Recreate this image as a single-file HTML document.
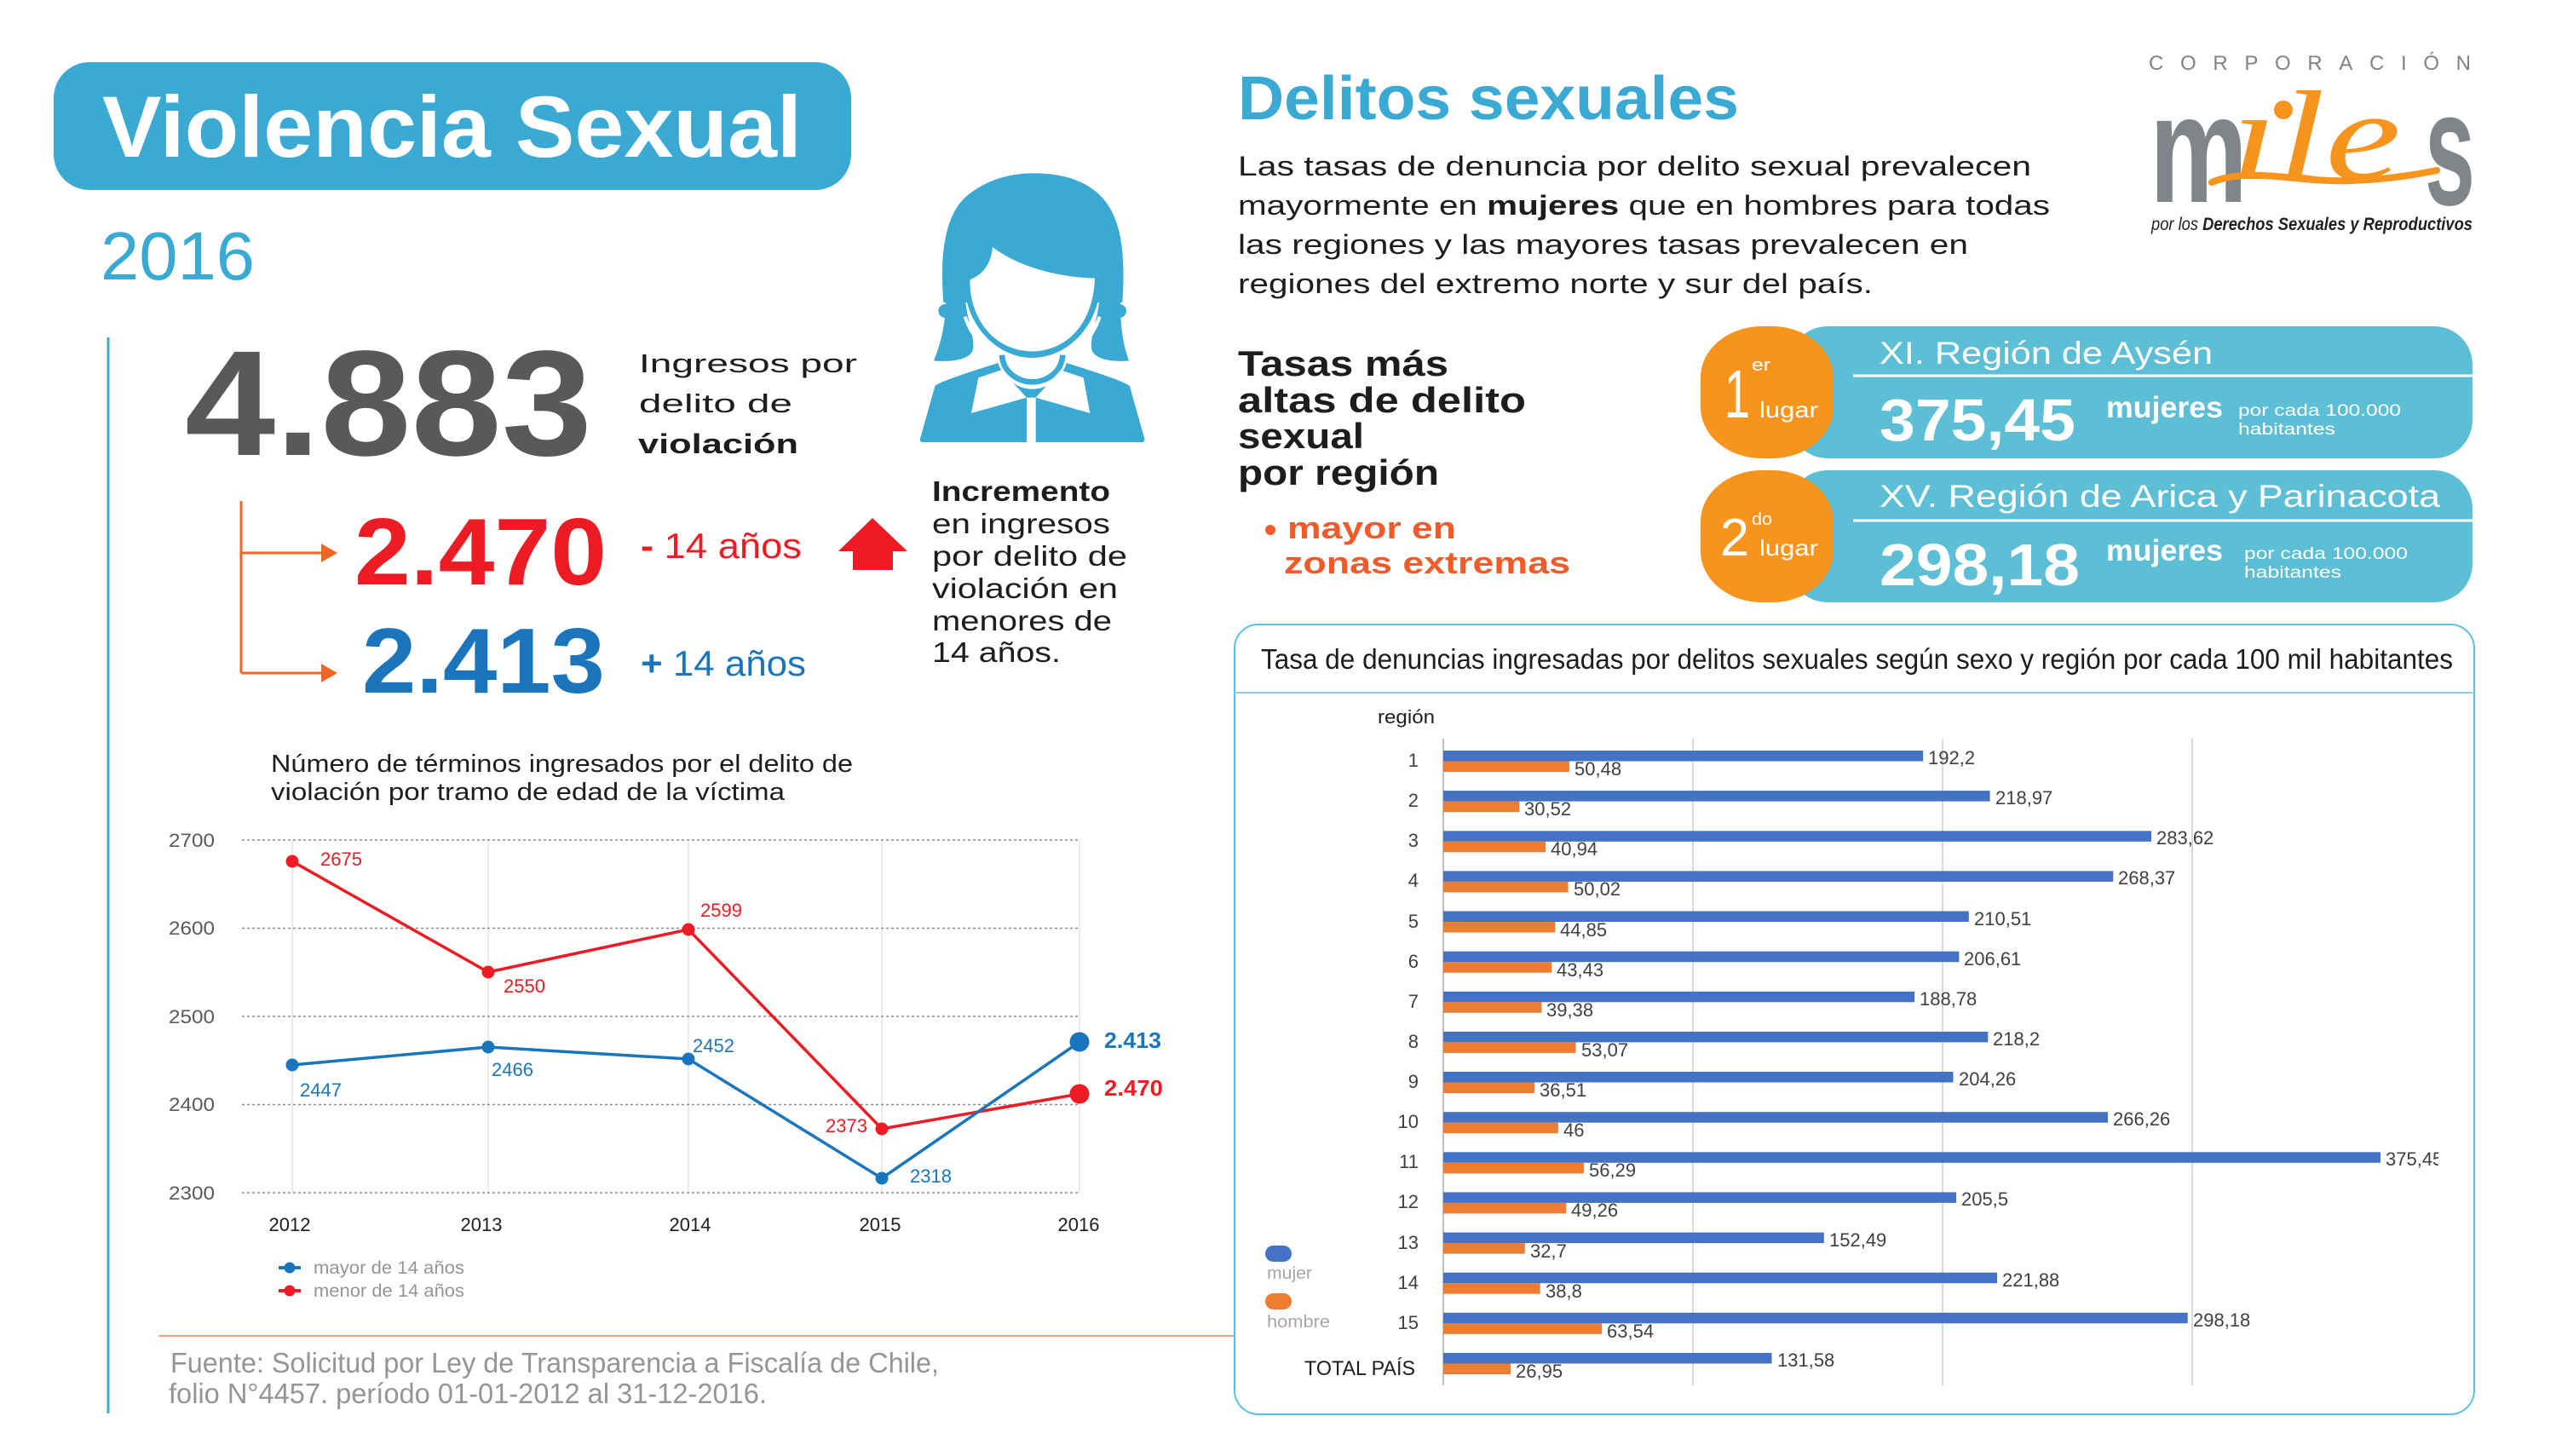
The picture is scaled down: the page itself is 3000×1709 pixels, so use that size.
<!DOCTYPE html>
<html><head><meta charset="utf-8">
<style>
html,body{margin:0;padding:0;background:#fff;}
svg{display:block;}
text{font-family:"Liberation Sans",sans-serif;}
</style></head>
<body>
<svg width="3000" height="1709" viewBox="0 0 3000 1709" xmlns="http://www.w3.org/2000/svg">
<defs>
<clipPath id="boxclip"><rect x="1449" y="733" width="1413" height="927"/></clipPath>
</defs>
<rect width="3000" height="1709" fill="#fff"/>

<!-- Title -->
<rect x="63" y="73" width="936" height="150" rx="42" fill="#3aa9d3"/>
<text x="120" y="184" font-size="102" font-weight="bold" fill="#fff" textLength="821" lengthAdjust="spacingAndGlyphs">Violencia Sexual</text>
<text x="118" y="328" font-size="80" fill="#3aa9d3" textLength="181" lengthAdjust="spacingAndGlyphs">2016</text>
<line x1="127" y1="396" x2="127" y2="1659" stroke="#3aa9d3" stroke-width="3"/>

<!-- Big numbers -->
<text x="217" y="534" font-size="176" font-weight="bold" fill="#58595b" textLength="478" lengthAdjust="spacingAndGlyphs">4.883</text>
<text x="750" y="437" font-size="31" fill="#1d1d1b" textLength="256" lengthAdjust="spacingAndGlyphs">Ingresos por</text>
<text x="750" y="484" font-size="31" fill="#1d1d1b" textLength="180" lengthAdjust="spacingAndGlyphs">delito de</text>
<text x="749" y="532" font-size="32" font-weight="bold" fill="#1d1d1b" textLength="188" lengthAdjust="spacingAndGlyphs">violación</text>

<path d="M283 588 V790 M283 649 H380 M283 790 H380" stroke="#f26522" stroke-width="3" fill="none"/>
<polygon points="377,638 396,649 377,660" fill="#f26522"/>
<polygon points="377,779 396,790 377,801" fill="#f26522"/>

<text x="416" y="686" font-size="111" font-weight="bold" fill="#ed1c24" textLength="296" lengthAdjust="spacingAndGlyphs">2.470</text>
<text x="752" y="655" font-size="42" fill="#ed1c24" textLength="189" lengthAdjust="spacingAndGlyphs"><tspan font-weight="bold">-</tspan> 14 años</text>
<text x="425" y="813" font-size="109" font-weight="bold" fill="#1a75bc" textLength="285" lengthAdjust="spacingAndGlyphs">2.413</text>
<text x="752" y="793" font-size="42" fill="#1a75bc" textLength="194" lengthAdjust="spacingAndGlyphs"><tspan font-weight="bold">+</tspan> 14 años</text>

<polygon points="1024,608 1065,647 1048,647 1048,669 1001,669 1001,647 984,647" fill="#ed1c24"/>

<text x="1094" y="588" font-size="33" font-weight="bold" fill="#1d1d1b" textLength="209" lengthAdjust="spacingAndGlyphs">Incremento</text>
<text x="1094" y="626" font-size="33" fill="#1d1d1b" textLength="209" lengthAdjust="spacingAndGlyphs">en ingresos</text>
<text x="1094" y="664" font-size="33" fill="#1d1d1b" textLength="229" lengthAdjust="spacingAndGlyphs">por delito de</text>
<text x="1094" y="702" font-size="33" fill="#1d1d1b" textLength="218" lengthAdjust="spacingAndGlyphs">violación en</text>
<text x="1094" y="740" font-size="33" fill="#1d1d1b" textLength="211" lengthAdjust="spacingAndGlyphs">menores de</text>
<text x="1094" y="777" font-size="33" fill="#1d1d1b" textLength="151" lengthAdjust="spacingAndGlyphs">14 años.</text>

<!-- Woman icon -->
<g transform="translate(1070,195) scale(0.33333)">
  <g fill="#3aa9d3">
    <path d="M112 480 C100 330 110 170 200 100 C270 45 350 25 430 25 C520 25 610 45 670 110 C745 190 752 330 742 480 Z"/>
    <circle cx="118" cy="510" r="24"/><circle cx="732" cy="510" r="24"/>
    <path d="M120 480 L190 480 C200 560 225 610 215 650 C200 685 130 690 78 685 C100 630 118 570 120 480 Z"/>
    <path d="M735 480 L660 480 C650 560 625 610 635 650 C650 685 720 690 765 685 C745 630 735 570 735 480 Z"/>
    <path d="M185 400 C185 560 300 675 425 675 C550 675 665 560 665 400 Z"/>
  </g>
  <path d="M188 530 C210 600 260 650 312 670" stroke="#fff" stroke-width="12" fill="none"/>
  <path d="M662 530 C640 600 590 650 538 670" stroke="#fff" stroke-width="12" fill="none"/>
  <path d="M205 400 C255 380 280 340 285 285 C370 350 500 390 645 395 C640 560 540 652 425 652 C300 652 205 550 205 400 Z" fill="#fff"/>
  <path d="M30 960 L82 775 C90 760 250 710 315 690 C330 760 380 785 425 785 C470 785 520 760 535 690 C600 710 760 760 768 775 L820 960 C822 970 815 972 810 972 L40 972 C32 972 28 968 30 960 Z" fill="#3aa9d3"/>
  <path d="M318 665 C322 730 380 760 425 760 C470 760 528 730 532 665" stroke="#fff" stroke-width="36" fill="none"/>
  <path d="M318 665 C322 730 380 760 425 760 C470 760 528 730 532 665" stroke="#3aa9d3" stroke-width="20" fill="none"/>
  <polygon points="235,745 315,718 405,815 210,870" fill="#fff"/>
  <polygon points="605,745 525,718 437,815 628,870" fill="#fff"/>
  <rect x="405" y="815" width="32" height="160" fill="#fff"/>
</g>

<!-- Line chart -->
<text x="318" y="906" font-size="29" fill="#1d1d1b" textLength="683" lengthAdjust="spacingAndGlyphs">Número de términos ingresados por el delito de</text>
<text x="318" y="939" font-size="29" fill="#1d1d1b" textLength="603" lengthAdjust="spacingAndGlyphs">violación por tramo de edad de la víctima</text>

<g stroke="#e3e3e3" stroke-width="1.5">
  <line x1="343" y1="986" x2="343" y2="1400"/>
  <line x1="573" y1="986" x2="573" y2="1400"/>
  <line x1="808" y1="986" x2="808" y2="1400"/>
  <line x1="1035" y1="986" x2="1035" y2="1400"/>
  <line x1="1267" y1="986" x2="1267" y2="1400"/>
</g>
<g stroke="#8a8c8f" stroke-width="1.6" stroke-dasharray="3 3">
  <line x1="284" y1="986" x2="1268" y2="986"/>
  <line x1="284" y1="1089.5" x2="1268" y2="1089.5"/>
  <line x1="284" y1="1193" x2="1268" y2="1193"/>
  <line x1="284" y1="1296.5" x2="1268" y2="1296.5"/>
  <line x1="284" y1="1400" x2="1268" y2="1400"/>
</g>
<g font-size="22" fill="#58595b" text-anchor="end">
  <text x="252" y="994" textLength="54" lengthAdjust="spacingAndGlyphs">2700</text>
  <text x="252" y="1097" textLength="54" lengthAdjust="spacingAndGlyphs">2600</text>
  <text x="252" y="1201" textLength="54" lengthAdjust="spacingAndGlyphs">2500</text>
  <text x="252" y="1304" textLength="54" lengthAdjust="spacingAndGlyphs">2400</text>
  <text x="252" y="1408" textLength="54" lengthAdjust="spacingAndGlyphs">2300</text>
</g>
<polyline points="343,1011 573,1141 808,1091 1035,1325 1267,1284" fill="none" stroke="#ed1c24" stroke-width="3.5"/>
<polyline points="343,1250 573,1229 808,1243 1035,1383 1267,1223" fill="none" stroke="#1a75bc" stroke-width="3.5"/>
<g fill="#ed1c24">
  <circle cx="343" cy="1011" r="7.5"/><circle cx="573" cy="1141" r="7.5"/><circle cx="808" cy="1091" r="7.5"/><circle cx="1035" cy="1325" r="7.5"/><circle cx="1267" cy="1284" r="11.5"/>
</g>
<g fill="#1a75bc">
  <circle cx="343" cy="1250" r="7.5"/><circle cx="573" cy="1229" r="7.5"/><circle cx="808" cy="1243" r="7.5"/><circle cx="1035" cy="1383" r="7.5"/><circle cx="1267" cy="1223" r="11.5"/>
</g>
<g font-size="22" fill="#ed1c24">
  <text x="376" y="1016">2675</text>
  <text x="591" y="1165">2550</text>
  <text x="822" y="1076">2599</text>
  <text x="969" y="1329">2373</text>
</g>
<g font-size="22" fill="#1a75bc">
  <text x="352" y="1287">2447</text>
  <text x="577" y="1263">2466</text>
  <text x="813" y="1235">2452</text>
  <text x="1068" y="1388">2318</text>
</g>
<text x="1296" y="1230" font-size="26" font-weight="bold" fill="#1a75bc" textLength="67" lengthAdjust="spacingAndGlyphs">2.413</text>
<text x="1296" y="1286" font-size="26" font-weight="bold" fill="#ed1c24" textLength="69" lengthAdjust="spacingAndGlyphs">2.470</text>
<g font-size="22" fill="#1d1d1b" text-anchor="middle">
  <text x="340" y="1445">2012</text>
  <text x="565" y="1445">2013</text>
  <text x="810" y="1445">2014</text>
  <text x="1033" y="1445">2015</text>
  <text x="1266" y="1445">2016</text>
</g>
<line x1="327" y1="1488" x2="353" y2="1488" stroke="#1a75bc" stroke-width="4"/>
<circle cx="340" cy="1488" r="6.5" fill="#1a75bc"/>
<text x="368" y="1495" font-size="21" fill="#939598" textLength="177" lengthAdjust="spacingAndGlyphs">mayor de 14 años</text>
<line x1="327" y1="1515" x2="353" y2="1515" stroke="#ed1c24" stroke-width="4"/>
<circle cx="340" cy="1515" r="6.5" fill="#ed1c24"/>
<text x="368" y="1522" font-size="21" fill="#939598" textLength="177" lengthAdjust="spacingAndGlyphs">menor de 14 años</text>

<line x1="186" y1="1568" x2="1449" y2="1568" stroke="#f6a27a" stroke-width="2"/>
<text x="200" y="1611" font-size="33" fill="#939598" textLength="902" lengthAdjust="spacingAndGlyphs">Fuente: Solicitud por Ley de Transparencia a Fiscalía de Chile,</text>
<text x="198" y="1647" font-size="33" fill="#939598" textLength="702" lengthAdjust="spacingAndGlyphs">folio N°4457. período 01-01-2012 al 31-12-2016.</text>

<!-- Top right -->
<text x="1453" y="140" font-size="72" font-weight="bold" fill="#3aa9d3" textLength="588" lengthAdjust="spacingAndGlyphs">Delitos sexuales</text>
<text x="1453" y="206" font-size="32" fill="#1d1d1b" textLength="931" lengthAdjust="spacingAndGlyphs">Las tasas de denuncia por delito sexual prevalecen</text>
<text x="1453" y="252" font-size="32" fill="#1d1d1b" textLength="953" lengthAdjust="spacingAndGlyphs">mayormente en <tspan font-weight="bold">mujeres</tspan> que en hombres para todas</text>
<text x="1453" y="298" font-size="32" fill="#1d1d1b" textLength="857" lengthAdjust="spacingAndGlyphs">las regiones y las mayores tasas prevalecen en</text>
<text x="1453" y="344" font-size="32" fill="#1d1d1b" textLength="745" lengthAdjust="spacingAndGlyphs">regiones del extremo norte y sur del país.</text>

<!-- Logo -->
<text x="2522" y="82" font-size="24" fill="#808285" textLength="378" lengthAdjust="spacing">CORPORACIÓN</text>
<text x="2523" y="237" font-size="180" font-weight="bold" fill="#808589" textLength="115" lengthAdjust="spacingAndGlyphs">m</text>
<text x="2846" y="240" font-size="190" font-weight="bold" fill="#808589" textLength="59" lengthAdjust="spacingAndGlyphs">s</text>
<path d="M2596 214 C2640 195 2700 215 2760 212 C2810 210 2840 204 2860 200" stroke="#f7941d" stroke-width="8" fill="none" stroke-linecap="round"/>
<text x="2618" y="210" font-style="italic" font-size="150" fill="#f7941d" textLength="200" lengthAdjust="spacingAndGlyphs" style="font-family:'Liberation Serif',serif">ıle</text>
<circle cx="2680" cy="129" r="11" fill="#f7941d"/>
<text x="2525" y="270" font-size="21" font-style="italic" fill="#231f20" textLength="377" lengthAdjust="spacingAndGlyphs">por los <tspan font-weight="bold">Derechos Sexuales y Reproductivos</tspan></text>

<!-- Tasas más altas -->
<text x="1453" y="441" font-size="42" font-weight="bold" fill="#1d1d1b" textLength="247" lengthAdjust="spacingAndGlyphs">Tasas más</text>
<text x="1453" y="484" font-size="42" font-weight="bold" fill="#1d1d1b" textLength="338" lengthAdjust="spacingAndGlyphs">altas de delito</text>
<text x="1453" y="526" font-size="42" font-weight="bold" fill="#1d1d1b" textLength="148" lengthAdjust="spacingAndGlyphs">sexual</text>
<text x="1453" y="569" font-size="42" font-weight="bold" fill="#1d1d1b" textLength="236" lengthAdjust="spacingAndGlyphs">por región</text>
<circle cx="1491" cy="622" r="6" fill="#f15a29"/>
<text x="1511" y="632" font-size="36" font-weight="bold" fill="#f15a29" textLength="198" lengthAdjust="spacingAndGlyphs">mayor en</text>
<text x="1507" y="673" font-size="36" font-weight="bold" fill="#f15a29" textLength="336" lengthAdjust="spacingAndGlyphs">zonas extremas</text>

<!-- Pills -->
<rect x="2100" y="383" width="802" height="155" rx="45" fill="#5dbfd5"/>
<rect x="1996" y="383" width="156" height="155" rx="72" ry="60" fill="#f7941d"/>
<line x1="2175" y1="441" x2="2902" y2="441" stroke="#fff" stroke-width="3"/>
<text x="2024" y="490" font-size="80" fill="#fff" textLength="30" lengthAdjust="spacingAndGlyphs">1</text>
<text x="2056" y="435" font-size="20" fill="#fff" textLength="22" lengthAdjust="spacingAndGlyphs">er</text>
<text x="2065" y="490" font-size="26" fill="#fff" textLength="69" lengthAdjust="spacingAndGlyphs">lugar</text>
<text x="2206" y="427" font-size="37" fill="#fff" textLength="391" lengthAdjust="spacingAndGlyphs">XI. Región de Aysén</text>
<text x="2206" y="517" font-size="70" font-weight="bold" fill="#fff" textLength="230" lengthAdjust="spacingAndGlyphs">375,45</text>
<text x="2472" y="490" font-size="35" font-weight="bold" fill="#fff" textLength="137" lengthAdjust="spacingAndGlyphs">mujeres</text>
<text x="2627" y="488" font-size="19.5" fill="#fff" textLength="191" lengthAdjust="spacingAndGlyphs">por cada 100.000</text>
<text x="2627" y="510" font-size="19.5" fill="#fff" textLength="114" lengthAdjust="spacingAndGlyphs">habitantes</text>

<rect x="2100" y="552" width="802" height="155" rx="45" fill="#5dbfd5"/>
<rect x="1996" y="552" width="156" height="155" rx="72" ry="60" fill="#f7941d"/>
<line x1="2175" y1="611" x2="2902" y2="611" stroke="#fff" stroke-width="3"/>
<text x="2019" y="652" font-size="62" fill="#fff" textLength="34" lengthAdjust="spacingAndGlyphs">2</text>
<text x="2056" y="616" font-size="20" fill="#fff" textLength="24" lengthAdjust="spacingAndGlyphs">do</text>
<text x="2065" y="652" font-size="26" fill="#fff" textLength="69" lengthAdjust="spacingAndGlyphs">lugar</text>
<text x="2206" y="595" font-size="37" fill="#fff" textLength="658" lengthAdjust="spacingAndGlyphs">XV. Región de Arica y Parinacota</text>
<text x="2206" y="687" font-size="70" font-weight="bold" fill="#fff" textLength="235" lengthAdjust="spacingAndGlyphs">298,18</text>
<text x="2472" y="658" font-size="35" font-weight="bold" fill="#fff" textLength="137" lengthAdjust="spacingAndGlyphs">mujeres</text>
<text x="2634" y="656" font-size="19.5" fill="#fff" textLength="192" lengthAdjust="spacingAndGlyphs">por cada 100.000</text>
<text x="2634" y="678" font-size="19.5" fill="#fff" textLength="114" lengthAdjust="spacingAndGlyphs">habitantes</text>

<!-- Bar chart box -->
<rect x="1449" y="733" width="1455" height="927" rx="28" fill="none" stroke="#5bbfe0" stroke-width="2"/>
<line x1="1449" y1="813" x2="2904" y2="813" stroke="#8fd0e8" stroke-width="2"/>
<text x="1480" y="785" font-size="33" fill="#1d1d1b" textLength="1399" lengthAdjust="spacingAndGlyphs">Tasa de denuncias ingresadas por delitos sexuales según sexo y región por cada 100 mil habitantes</text>
<text x="1617" y="849" font-size="22" fill="#1d1d1b" textLength="67" lengthAdjust="spacingAndGlyphs">región</text>

<g stroke="#d9d9d9" stroke-width="2">
  <line x1="1987" y1="867" x2="1987" y2="1626"/>
  <line x1="2280" y1="867" x2="2280" y2="1626"/>
  <line x1="2573" y1="867" x2="2573" y2="1626"/>
</g>
<line x1="1694" y1="867" x2="1694" y2="1626" stroke="#bfbfbf" stroke-width="2"/>

<g fill="#4472c4">
  <rect x="1694" y="881.0" width="563.1" height="12.5"/>
  <rect x="1694" y="928.1" width="641.6" height="12.5"/>
  <rect x="1694" y="975.3" width="831.0" height="12.5"/>
  <rect x="1694" y="1022.4" width="786.3" height="12.5"/>
  <rect x="1694" y="1069.5" width="616.8" height="12.5"/>
  <rect x="1694" y="1116.7" width="605.4" height="12.5"/>
  <rect x="1694" y="1163.8" width="553.1" height="12.5"/>
  <rect x="1694" y="1210.9" width="639.3" height="12.5"/>
  <rect x="1694" y="1258.0" width="598.5" height="12.5"/>
  <rect x="1694" y="1305.2" width="780.1" height="12.5"/>
  <rect x="1694" y="1352.3" width="1100.1" height="12.5"/>
  <rect x="1694" y="1399.4" width="602.1" height="12.5"/>
  <rect x="1694" y="1446.6" width="446.8" height="12.5"/>
  <rect x="1694" y="1493.7" width="650.1" height="12.5"/>
  <rect x="1694" y="1540.8" width="873.7" height="12.5"/>
  <rect x="1694" y="1588.0" width="385.5" height="12.5"/>
</g>
<g fill="#ed7d31">
  <rect x="1694" y="893.5" width="147.9" height="12.5"/>
  <rect x="1694" y="940.6" width="89.4" height="12.5"/>
  <rect x="1694" y="987.8" width="120.0" height="12.5"/>
  <rect x="1694" y="1034.9" width="146.6" height="12.5"/>
  <rect x="1694" y="1082.0" width="131.4" height="12.5"/>
  <rect x="1694" y="1129.2" width="127.3" height="12.5"/>
  <rect x="1694" y="1176.3" width="115.4" height="12.5"/>
  <rect x="1694" y="1223.4" width="155.5" height="12.5"/>
  <rect x="1694" y="1270.5" width="107.0" height="12.5"/>
  <rect x="1694" y="1317.7" width="134.8" height="12.5"/>
  <rect x="1694" y="1364.8" width="164.9" height="12.5"/>
  <rect x="1694" y="1411.9" width="144.3" height="12.5"/>
  <rect x="1694" y="1459.1" width="95.8" height="12.5"/>
  <rect x="1694" y="1506.2" width="113.7" height="12.5"/>
  <rect x="1694" y="1553.3" width="186.2" height="12.5"/>
  <rect x="1694" y="1600.5" width="79.0" height="12.5"/>
</g>
<g font-size="22" fill="#404040" clip-path="url(#boxclip)">
  <text x="2263" y="897">192,2</text><text x="1848" y="910">50,48</text>
  <text x="2342" y="944">218,97</text><text x="1789" y="957">30,52</text>
  <text x="2531" y="991">283,62</text><text x="1820" y="1004">40,94</text>
  <text x="2486" y="1038">268,37</text><text x="1847" y="1051">50,02</text>
  <text x="2317" y="1086">210,51</text><text x="1831" y="1099">44,85</text>
  <text x="2305" y="1133">206,61</text><text x="1827" y="1146">43,43</text>
  <text x="2253" y="1180">188,78</text><text x="1815" y="1193">39,38</text>
  <text x="2339" y="1227">218,2</text><text x="1856" y="1240">53,07</text>
  <text x="2299" y="1274">204,26</text><text x="1807" y="1287">36,51</text>
  <text x="2480" y="1321">266,26</text><text x="1835" y="1334">46</text>
  <text x="2800" y="1368">375,45</text><text x="1865" y="1381">56,29</text>
  <text x="2302" y="1415">205,5</text><text x="1844" y="1428">49,26</text>
  <text x="2147" y="1463">152,49</text><text x="1796" y="1476">32,7</text>
  <text x="2350" y="1510">221,88</text><text x="1814" y="1523">38,8</text>
  <text x="2574" y="1557">298,18</text><text x="1886" y="1570">63,54</text>
  <text x="2086" y="1604">131,58</text><text x="1779" y="1617">26,95</text>
</g>
<g font-size="22" fill="#404040" text-anchor="end">
  <text x="1665" y="900">1</text>
  <text x="1665" y="947">2</text>
  <text x="1665" y="994">3</text>
  <text x="1665" y="1041">4</text>
  <text x="1665" y="1089">5</text>
  <text x="1665" y="1136">6</text>
  <text x="1665" y="1183">7</text>
  <text x="1665" y="1230">8</text>
  <text x="1665" y="1277">9</text>
  <text x="1665" y="1324">10</text>
  <text x="1665" y="1371">11</text>
  <text x="1665" y="1418">12</text>
  <text x="1665" y="1466">13</text>
  <text x="1665" y="1513">14</text>
  <text x="1665" y="1560">15</text>
</g>
<text x="1531" y="1614" font-size="24" fill="#1d1d1b" textLength="130" lengthAdjust="spacingAndGlyphs">TOTAL PAÍS</text>

<rect x="1485" y="1462" width="31" height="19" rx="9.5" fill="#4472c4"/>
<text x="1487" y="1501" font-size="20" fill="#a6a6a6" textLength="53" lengthAdjust="spacingAndGlyphs">mujer</text>
<rect x="1485" y="1518" width="31" height="19" rx="9.5" fill="#ed7d31"/>
<text x="1487" y="1558" font-size="20" fill="#a6a6a6" textLength="74" lengthAdjust="spacingAndGlyphs">hombre</text>
</svg>
</body></html>
